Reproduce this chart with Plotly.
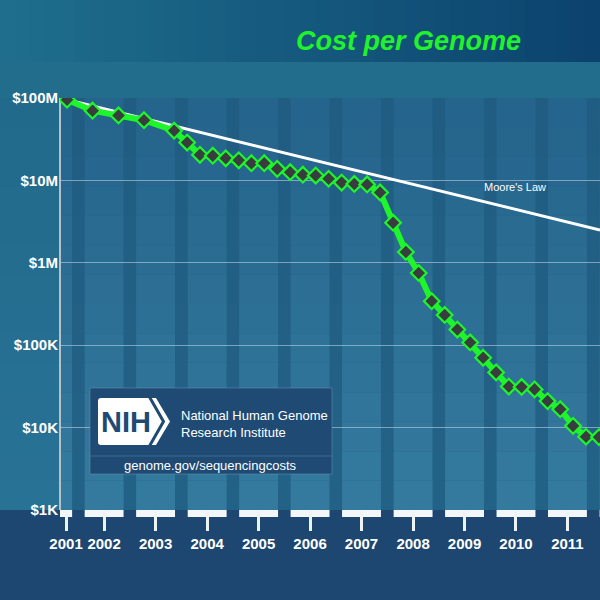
import plotly.graph_objects as go
import pandas as pd

# ---------------- data ----------------
dates = ["2001-09", "2002-03", "2002-09", "2003-03", "2003-10", "2004-01", "2004-04",
         "2004-07", "2004-10", "2005-01", "2005-04", "2005-07", "2005-10", "2006-01",
         "2006-04", "2006-07", "2006-10", "2007-01", "2007-04", "2007-07", "2007-10",
         "2008-01", "2008-04", "2008-07", "2008-10", "2009-01", "2009-04", "2009-07",
         "2009-10", "2010-01", "2010-04", "2010-07", "2010-10", "2011-01", "2011-04",
         "2011-07", "2011-10", "2012-01"]
cost = [95263072, 70175437, 61448422, 53751684, 40153676, 28780376, 20442576,
        19934346, 18519312, 17534970, 16159699, 16180224, 13801124, 12585659,
        11732535, 11455315, 10474556, 9408739, 9047003, 8927342, 7147571,
        3063820, 1352982, 752080, 342502, 232735, 154714, 108065,
        70333, 46774, 31512, 31125, 29092, 20963, 16712,
        10497, 7743, 7666]

moore_dates = ["2001-09-01", "2012-01-08"]
moore_cost = [95263072, 2.5e6]

year_labels = ["2001", "2002", "2003", "2004", "2005", "2006", "2007", "2008", "2009", "2010", "2011"]
year_tick_dates = ["2001-08-25", "2002-05-22", "2003-05-22", "2004-05-22", "2005-05-22",
                   "2006-05-22", "2007-05-22", "2008-05-22", "2009-05-22", "2010-05-22",
                   "2011-05-22"]
stripe_centers = ["%d-05-22" % y for y in range(2001, 2013)]

y_tick_vals = [1e3, 1e4, 1e5, 1e6, 1e7, 1e8]
y_tick_text = ["$1K", "$10K", "$100K", "$1M", "$10M", "$100M"]

# ---------------- geometry helpers ----------------
W, H = 600, 600
L, R, T, B = 60, 0, 98, 90
PW, PH = W - L - R, H - T - B


def px(x):
    return (x - L) / PW


def py(y):
    return (H - B - y) / PH


def lerp(c1, c2, f):
    return "rgb(%d,%d,%d)" % tuple(round(a + (b - a) * f) for a, b in zip(c1, c2))


FONT = "Liberation Sans, Arial, sans-serif"
shapes = []

# title band gradient
N = 40
for i in range(N):
    x0 = i * W / N
    x1 = (i + 1) * W / N + 0.6
    shapes.append(dict(type="rect", xref="paper", yref="paper", x0=px(x0), x1=px(x1),
                       y0=py(62), y1=py(0), line_width=0, layer="below",
                       fillcolor=lerp((31, 110, 141), (11, 67, 110), i / (N - 1))))

# plot area and left margin vertical gradient, with stripes
NV = 14
half = pd.Timedelta(days=138)
for j in range(NV):
    y0 = 98 + j * 412 / NV
    y1 = 98 + (j + 1) * 412 / NV + 0.6
    f = j / (NV - 1)
    shapes.append(dict(type="rect", xref="paper", yref="paper", x0=px(0), x1=px(60),
                       y0=py(y1), y1=py(y0), line_width=0, layer="below",
                       fillcolor=lerp((34, 106, 139), (40, 114, 150), f)))
    shapes.append(dict(type="rect", xref="paper", yref="paper", x0=0, x1=1,
                       y0=py(y1), y1=py(y0), line_width=0, layer="below",
                       fillcolor=lerp((33, 93, 131), (35, 98, 135), f)))
    for c in stripe_centers:
        ct = pd.Timestamp(c)
        shapes.append(dict(type="rect", xref="x", yref="paper",
                           x0=(ct - half).strftime("%Y-%m-%d"), x1=(ct + half).strftime("%Y-%m-%d"),
                           y0=py(y1), y1=py(y0), line_width=0, layer="below",
                           fillcolor=lerp((37, 100, 140), (52, 122, 158), f)))

# y axis line
shapes.append(dict(type="line", xref="paper", yref="paper", x0=px(60), x1=px(60),
                   y0=0, y1=1, line=dict(color="#b4c1ca", width=2), layer="below"))

# bottom navy area
shapes.append(dict(type="rect", xref="paper", yref="paper", x0=px(0), x1=px(W),
                   y0=py(H), y1=py(510), line_width=0, layer="below", fillcolor="#1d4770"))
# white bars under the axis
for c in stripe_centers:
    ct = pd.Timestamp(c)
    shapes.append(dict(type="rect", xref="x", yref="paper",
                       x0=(ct - half).strftime("%Y-%m-%d"), x1=(ct + half).strftime("%Y-%m-%d"),
                       y0=py(517), y1=py(510), line_width=0, layer="below", fillcolor="#f4f7f9"))

# NIH box
shapes.append(dict(type="rect", xref="paper", yref="paper", x0=px(90), x1=px(332),
                   y0=py(474), y1=py(388), fillcolor="#1f4a74",
                   line=dict(color="rgba(110,150,180,0.5)", width=1), layer="above"))
shapes.append(dict(type="line", xref="paper", yref="paper", x0=px(90), x1=px(332),
                   y0=py(456), y1=py(456), line=dict(color="#3c6a92", width=1), layer="above"))


def P(x, y):
    return "%f,%f" % (px(x), py(y))


logo = ("M " + P(101, 398) + " L " + P(156, 398) + " L " + P(170, 421.5) + " L " + P(156, 445)
        + " L " + P(101, 445) + " Q " + P(98, 445) + " " + P(98, 442) + " L " + P(98, 401)
        + " Q " + P(98, 398) + " " + P(101, 398) + " Z")
shapes.append(dict(type="path", xref="paper", yref="paper", path=logo,
                   fillcolor="white", line_width=0, layer="above"))
chev = "M " + P(149.5, 397) + " L " + P(163.5, 421.5) + " L " + P(149.5, 446)
shapes.append(dict(type="path", xref="paper", yref="paper", path=chev,
                   line=dict(color="#1f4a74", width=3), layer="above"))

# ---------------- traces ----------------
fig = go.Figure()
fig.add_trace(go.Scatter(x=moore_dates, y=moore_cost, mode="lines",
                         line=dict(color="white", width=3), hoverinfo="skip"))
fig.add_trace(go.Scatter(x=dates, y=cost, mode="lines+markers",
                         line=dict(color="#1ef52a", width=6),
                         marker=dict(symbol="diamond", size=12, color="#3a3d40",
                                     line=dict(color="#1ef52a", width=2.2))))

annotations = [
    dict(text="<b><i>Cost per Genome</i></b>", x=px(408), y=py(41), xref="paper", yref="paper",
         showarrow=False, font=dict(family=FONT, size=27, color="#22f22c"),
         xanchor="center", yanchor="middle"),
    dict(text="Moore's Law", x=px(515), y=py(187), xref="paper", yref="paper",
         showarrow=False, font=dict(family=FONT, size=11, color="white"),
         xanchor="center", yanchor="middle"),
    dict(text="<b>NIH</b>", x=px(126), y=py(422), xref="paper", yref="paper",
         showarrow=False, font=dict(family=FONT, size=29, color="#1f4a74"),
         xanchor="center", yanchor="middle"),
    dict(text="National Human Genome", x=px(179), y=py(415), xref="paper", yref="paper",
         showarrow=False, font=dict(family=FONT, size=13, color="white"),
         xanchor="left", yanchor="middle"),
    dict(text="Research Institute", x=px(179), y=py(432), xref="paper", yref="paper",
         showarrow=False, font=dict(family=FONT, size=13, color="white"),
         xanchor="left", yanchor="middle"),
    dict(text="genome.gov/sequencingcosts", x=px(210), y=py(465), xref="paper", yref="paper",
         showarrow=False, font=dict(family=FONT, size=13, color="white"),
         xanchor="center", yanchor="middle"),
]

fig.update_layout(
    width=W, height=H,
    margin=dict(l=L, r=R, t=T, b=B, pad=0),
    paper_bgcolor="#226c8c",
    plot_bgcolor="rgba(0,0,0,0)",
    showlegend=False,
    hovermode=False,
    font=dict(family=FONT, color="white"),
    shapes=shapes,
    annotations=annotations,
    xaxis=dict(type="date", range=["2001-07-13", "2012-01-08"],
               tickmode="array", tickvals=year_tick_dates,
               ticktext=["<b>%s</b>" % t for t in year_labels],
               ticks="outside", ticklen=20, tickwidth=3, tickcolor="#eef3f6",
               showgrid=False, zeroline=False, showline=False,
               tickfont=dict(family=FONT, size=15, color="white")),
    yaxis=dict(type="log", range=[3, 8], tickmode="array", tickvals=y_tick_vals,
               ticktext=["<b>%s</b>" % t for t in y_tick_text],
               showgrid=True, gridcolor="rgba(200,220,232,0.55)", gridwidth=1,
               showline=False, ticks="", zeroline=False, ticklabelstandoff=1,
               tickfont=dict(family=FONT, size=15, color="white")),
)

fig.write_html("out.html", config={"displayModeBar": False},
               post_script="document.body.style.margin='0';document.body.style.overflow='hidden';")
